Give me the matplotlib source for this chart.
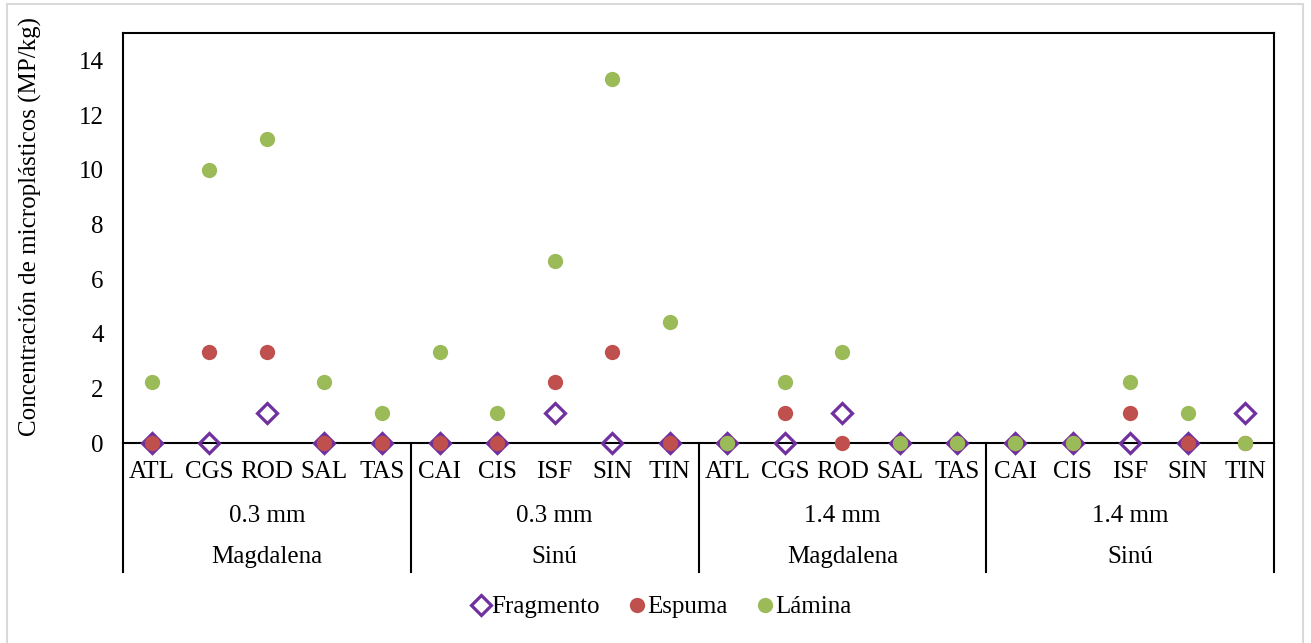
import matplotlib
matplotlib.use("Agg")
import numpy as np
import matplotlib.pyplot as plt
from matplotlib.lines import Line2D

plt.rcParams['font.family'] = ['Liberation Serif', 'DejaVu Serif']

# category labels (three levels)
sites = ["ATL", "CGS", "ROD", "SAL", "TAS",
         "CAI", "CIS", "ISF", "SIN", "TIN",
         "ATL", "CGS", "ROD", "SAL", "TAS",
         "CAI", "CIS", "ISF", "SIN", "TIN"]
sizes = ["0.3 mm", "0.3 mm", "1.4 mm", "1.4 mm"]
rivers = ["Magdalena", "Sinú", "Magdalena", "Sinú"]

# concentrations (MP/kg)
fragmento = [0, 0, 1.11, 0, 0,
             0, 0, 1.11, 0, 0,
             0, 0, 1.11, 0, 0,
             0, 0, 0, 0, 1.11]
espuma = [0, 3.33, 3.33, 0, 0,
          0, 0, 2.22, 3.33, 0,
          0, 1.11, 0, 0, 0,
          0, 0, 1.11, 0, 0]
lamina = [2.22, 10.0, 11.11, 2.22, 1.11,
          3.33, 1.11, 6.67, 13.33, 4.44,
          0, 2.22, 3.33, 0, 0,
          0, 0, 2.22, 1.11, 0]

FS = 18
W, H = 1311, 643
fig = plt.figure(figsize=(W / 100, H / 100), dpi=100)
ax = fig.add_axes([123 / W, 1 - 443 / H, (1274 - 123) / W, (443 - 33) / H])

x = np.arange(len(sites))
ax.plot(x, fragmento, "D", ms=10, mfc="none", mec="#7030A0", mew=2.3,
        clip_on=False, zorder=3, label="Fragmento")
ax.plot(x, espuma, "o", ms=11, color="#C0504D", mec="none",
        clip_on=False, zorder=4, label="Espuma")
ax.plot(x, lamina, "o", ms=11, color="#9BBB59", mec="none",
        clip_on=False, zorder=5, label="Lámina")

ax.set_xlim(-0.5, len(sites) - 0.5)
ax.set_ylim(0, 15)
ax.set_yticks(np.arange(0, 15, 2))
ax.set_xticks([])
ax.tick_params(axis="y", length=0, pad=14, labelsize=FS)
for s in ax.spines.values():
    s.set_linewidth(1.5)
    s.set_color("black")

# multi-level category axis
trans = ax.get_xaxis_transform()
bottom = -0.3146
for i, s in enumerate(sites):
    ax.text(i, -0.0707, s, transform=trans, ha="center", va="center", fontsize=FS)
for g in range(4):
    ax.text(g * 5 + 2, -0.178, sizes[g], transform=trans, ha="center", va="center", fontsize=FS)
    ax.text(g * 5 + 2, -0.278, rivers[g], transform=trans, ha="center", va="center", fontsize=FS)
for xs in [-0.5, 4.5, 9.5, 14.5, 19.5]:
    ax.plot([xs, xs], [0, bottom], transform=trans, color="black", lw=1.5, clip_on=False)

fig.text(30 / W, 1 - 226 / H, "Concentración de microplásticos (MP/kg)",
         rotation=90, ha="center", va="center", fontsize=FS)

fig.legend(loc="center", bbox_to_anchor=(660 / W, 1 - 607 / H), ncol=3, frameon=False,
           fontsize=FS, handletextpad=-0.1, columnspacing=1.0, handlelength=1.0)

# light outer chart border
bc = "#D9D9D9"
fig.add_artist(Line2D([7 / W, 1303 / W], [1 - 4 / H, 1 - 4 / H], color=bc, lw=1.5))
fig.add_artist(Line2D([7 / W, 7 / W], [0, 1 - 4 / H], color=bc, lw=1.5))
fig.add_artist(Line2D([1303 / W, 1303 / W], [0, 1 - 4 / H], color=bc, lw=1.5))

fig.savefig("out.png", dpi=100)
